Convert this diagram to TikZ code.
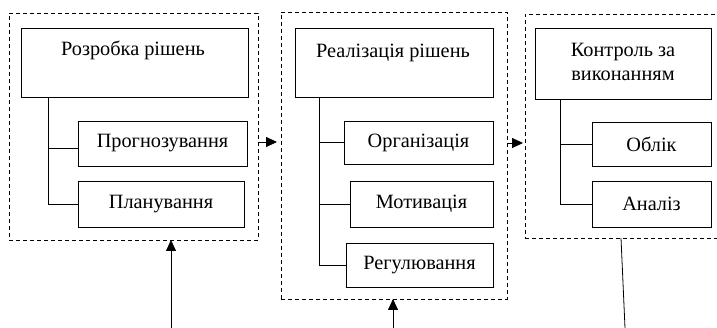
\documentclass[tikz,border=0pt]{standalone}
\usepackage{fontspec}
\setmainfont{Liberation Serif}
\usetikzlibrary{arrows.meta}
\begin{document}
\begin{tikzpicture}[x=1pt,y=-1pt,
  box/.style={draw, line width=0.8pt, inner sep=0pt, outer sep=0pt, anchor=north west},
  panel/.style={draw, dashed, dash pattern=on 4pt off 3pt, line width=0.8pt, inner sep=0pt, outer sep=0pt, anchor=north west},
  txt/.style={inner sep=0pt, font=\rmfamily\fontsize{20.3}{24}\selectfont},
  tree/.style={line width=0.8pt},
  arr/.style={line width=0.8pt, -{Triangle[length=11pt,width=10pt]}}]
\useasboundingbox (0,0) rectangle (717,328);
\fill[white] (0,0) rectangle (717,328);
% panel 1
\node[panel, minimum width=249pt, minimum height=227pt] (p1) at (9,13) {};
\node[box, minimum width=227pt, minimum height=69pt] (m1) at (21,28) {};
\node[txt] (m1t) at (133,50) {Розробка рішень};
\node[box, minimum width=169pt, minimum height=45pt] (b11) at (78,121) {};
\node[txt] at (b11.center) {Прогнозування};
\node[box, minimum width=166pt, minimum height=46pt] (b12) at (78,181) {};
\node[txt] at (b12.center) {Планування};
\coordinate (t1) at (48,97);
\draw[tree] (t1) |- (b12.west);
\draw[tree] (t1 |- 0,148) -- (b11.west |- 0,148);
% panel 2
\node[panel, minimum width=226pt, minimum height=287pt] (p2) at (281,12) {};
\node[box, minimum width=198pt, minimum height=69pt] (m2) at (295,28) {};
\node[txt] (m2t) at (393,53) {Реалізація рішень};
\node[box, minimum width=149pt, minimum height=43pt] (b21) at (344,121) {};
\node[txt] at (b21.center) {Організація};
\node[box, minimum width=143pt, minimum height=46pt] (b22) at (350,181) {};
\node[txt] at (b22.center) {Мотивація};
\node[box, minimum width=147pt, minimum height=44pt] (b23) at (346,243) {};
\node[txt] at (b23.center) {Регулювання};
\coordinate (t2) at (319,97);
\draw[tree] (t2) |- (b23.west);
\draw[tree] (t2 |- b21.west) -- (b21.west);
\draw[tree] (t2 |- b22.west) -- (b22.west);
% panel 3
\node[panel, minimum width=200pt, minimum height=224pt] (p3) at (525,14) {};
\node[box, minimum width=176pt, minimum height=71pt] (m3) at (535,28) {};
\node[txt, align=center] (m3t) at (623,62) {Контроль за\\[0pt]виконанням};
\node[box, minimum width=119pt, minimum height=44pt] (b31) at (592,122) {};
\node[txt] at (b31.center) {Облік};
\node[box, minimum width=119pt, minimum height=46pt] (b32) at (592,181) {};
\node[txt] at (b32.center) {Аналіз};
\coordinate (t3) at (560,99);
\draw[tree] (t3) |- (b32.west);
\draw[tree] (t3 |- b31.west) -- (b31.west);
% arrows between panels
\draw[arr, shorten >=4pt] (p1.east |- 0,142) -- (p2.west |- 0,142);
\draw[arr, shorten >=2pt] (p2.east |- 0,143) -- (p3.west |- 0,143);
% bottom connectors
\coordinate (a1) at (171,328);
\coordinate (a2) at (393,328);
\coordinate (a3) at (625,328);
\draw[arr] (a1) -- (a1 |- p1.south);
\draw[arr] (a2) -- (a2 |- p2.south);
\draw[tree] (p3.south -| 621,0) -- (a3);
\end{tikzpicture}
\end{document}
